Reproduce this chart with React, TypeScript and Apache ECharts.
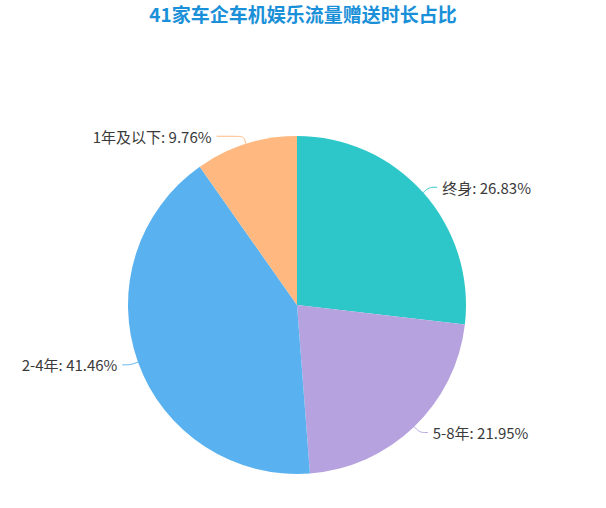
import React, { useEffect, useRef } from "react";
import * as echarts from "echarts";

const titleText = "41家车企车机娱乐流量赠送时长占比";
const categories = ["终身", "5-8年", "2-4年", "1年及以下"];
const counts = [11, 9, 17, 4];
const colors = ["#2ec7c9", "#b6a2de", "#5ab1ef", "#ffb980"];
// the small top-left slice gets a longer leader line
const leaderExtra = [8, 8, 8, 27];

export default function App() {
  const ref = useRef<HTMLDivElement>(null);
  useEffect(() => {
    document.body.style.margin = "0";
    const chart = echarts.init(ref.current!, undefined, { renderer: "svg" });
    chart.setOption({
      animation: false,
      color: colors,
      title: {
        text: titleText,
        left: "center",
        top: 4,
        padding: 0,
        textStyle: {
          color: "#1a90d8",
          fontSize: 19,
          lineHeight: 19,
          fontWeight: "bold",
          fontFamily: "Noto Sans CJK SC",
        },
      },
      series: [
        {
          type: "pie",
          center: [297, 305],
          radius: 169,
          startAngle: 90,
          clockwise: true,
          label: {
            formatter: (p: any) => `${p.name}: ${p.percent.toFixed(2)}%`,
            color: "#3a3a3a",
            fontSize: 15,
            fontFamily: "Noto Sans CJK SC",
          },
          labelLine: { length: 8, length2: 8, smooth: true },
          percentPrecision: 2,
          data: categories.map((name, i) => ({
            name,
            value: counts[i],
            labelLine: { length: 8, length2: leaderExtra[i], smooth: true },
          })),
        },
      ],
    });
    return () => chart.dispose();
  }, []);
  return <div ref={ref} style={{ width: 606, height: 508 }} />;
}
